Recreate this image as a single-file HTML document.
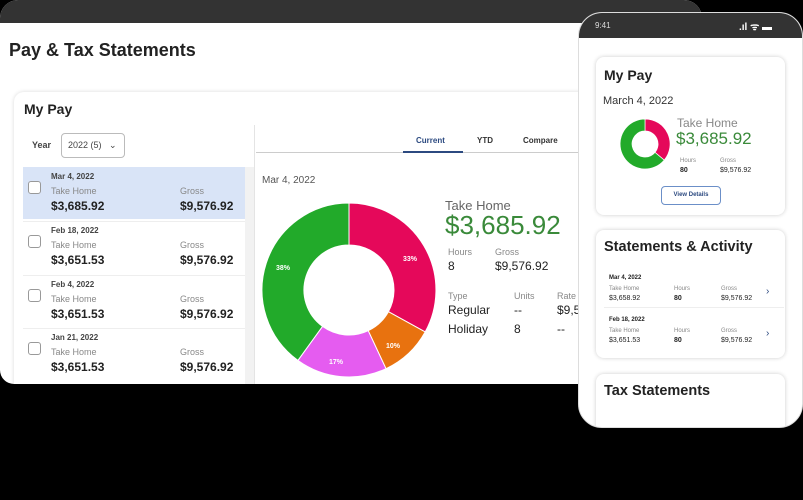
<!DOCTYPE html>
<html><head><style>
*{margin:0;padding:0;box-sizing:border-box}
body{width:803px;height:500px;background:#000;position:relative;overflow:hidden;font-family:"Liberation Sans",sans-serif;color:#222}
.a{position:absolute;white-space:nowrap}
.b{font-weight:bold}
.g{color:#888}
</style></head><body>
<div class="a" style="left:0;top:0;width:702px;height:384px;background:#fff;border-radius:18px 18px 14px 14px;overflow:hidden">
 <div class="a" style="left:0;top:0;width:702px;height:23px;background:#333"></div>
 <div class="a b" style="left:9px;top:40px;font-size:18px;color:#222">Pay &amp; Tax Statements</div>
 <div class="a" style="left:14px;top:92px;width:700px;height:300px;border-radius:10px;box-shadow:0 0 4px rgba(0,0,0,.15);background:#fff"></div>
 <div class="a b" style="left:24px;top:101px;font-size:14px">My Pay</div>
 <div class="a" style="left:23px;top:125px;width:232px;height:260px;background:#fff;border-right:1px solid #e4e4e4"></div>
 <div class="a b" style="left:32px;top:140px;font-size:9px;color:#444">Year</div>
 <div class="a" style="left:61px;top:133px;width:64px;height:25px;border:1px solid #bbb;border-radius:4px;font-size:9px;color:#444;padding:6px 0 0 6px">2022 (5) &nbsp;&nbsp;⌄</div>
 <div class="a" style="left:23px;top:167px;width:222px;height:52px;background:#d9e4f7"></div>
 <div class="a" style="left:245px;top:167px;width:9px;height:220px;background:#f2f2f2"></div>
 <div class="a" style="left:23px;top:168px;width:222px">
  <div class="a" style="left:5px;top:13px;width:13px;height:13px;border:1px solid #999;border-radius:3px;background:#fff"></div>
  <div class="a b" style="left:28px;top:4px;font-size:8px;color:#444">Mar 4, 2022</div>
  <div class="a g" style="left:28px;top:18px;font-size:9px">Take Home</div><div class="a g" style="left:157px;top:18px;font-size:9px">Gross</div>
  <div class="a b" style="left:28px;top:31px;font-size:12px">$3,685.92</div><div class="a b" style="left:157px;top:31px;font-size:12px">$9,576.92</div>
 </div>
 <div class="a" style="left:23px;top:221px;width:222px;border-top:1px solid #eee">
  <div class="a" style="left:5px;top:13px;width:13px;height:13px;border:1px solid #999;border-radius:3px"></div>
  <div class="a b" style="left:28px;top:4px;font-size:8px;color:#444">Feb 18, 2022</div>
  <div class="a g" style="left:28px;top:18px;font-size:9px">Take Home</div><div class="a g" style="left:157px;top:18px;font-size:9px">Gross</div>
  <div class="a b" style="left:28px;top:31px;font-size:12px">$3,651.53</div><div class="a b" style="left:157px;top:31px;font-size:12px">$9,576.92</div>
 </div>
 <div class="a" style="left:23px;top:275px;width:222px;border-top:1px solid #eee">
  <div class="a" style="left:5px;top:13px;width:13px;height:13px;border:1px solid #999;border-radius:3px"></div>
  <div class="a b" style="left:28px;top:4px;font-size:8px;color:#444">Feb 4, 2022</div>
  <div class="a g" style="left:28px;top:18px;font-size:9px">Take Home</div><div class="a g" style="left:157px;top:18px;font-size:9px">Gross</div>
  <div class="a b" style="left:28px;top:31px;font-size:12px">$3,651.53</div><div class="a b" style="left:157px;top:31px;font-size:12px">$9,576.92</div>
 </div>
 <div class="a" style="left:23px;top:328px;width:222px;border-top:1px solid #eee">
  <div class="a" style="left:5px;top:13px;width:13px;height:13px;border:1px solid #999;border-radius:3px"></div>
  <div class="a b" style="left:28px;top:4px;font-size:8px;color:#444">Jan 21, 2022</div>
  <div class="a g" style="left:28px;top:18px;font-size:9px">Take Home</div><div class="a g" style="left:157px;top:18px;font-size:9px">Gross</div>
  <div class="a b" style="left:28px;top:31px;font-size:12px">$3,651.53</div><div class="a b" style="left:157px;top:31px;font-size:12px">$9,576.92</div>
 </div>
 <div class="a" style="left:256px;top:152px;width:330px;height:1px;background:#ccc"></div>
 <div class="a b" style="left:416px;top:136px;font-size:8px;color:#2c4a80">Current</div>
 <div class="a" style="left:403px;top:151px;width:60px;height:2px;background:#2c4a80"></div>
 <div class="a b" style="left:477px;top:136px;font-size:8px;color:#333">YTD</div>
 <div class="a b" style="left:523px;top:136px;font-size:8px;color:#333">Compare</div>
 <div class="a" style="left:262px;top:175px;font-size:10px;color:#555">Mar 4, 2022</div>
 <div class="a" style="left:445px;top:198px;font-size:13px;color:#666">Take Home</div>
 <div class="a" style="left:445px;top:210px;font-size:26px;color:#3a8a3a">$3,685.92</div>
 <div class="a g" style="left:448px;top:247px;font-size:9px">Hours</div><div class="a g" style="left:495px;top:247px;font-size:9px">Gross</div>
 <div class="a" style="left:448px;top:259px;font-size:12px">8</div><div class="a" style="left:495px;top:259px;font-size:12px">$9,576.92</div>
 <div class="a g" style="left:448px;top:291px;font-size:9px">Type</div><div class="a g" style="left:514px;top:291px;font-size:9px">Units</div><div class="a g" style="left:557px;top:291px;font-size:9px">Rate</div>
 <div class="a" style="left:448px;top:303px;font-size:12px">Regular</div><div class="a" style="left:514px;top:303px;font-size:12px">--</div><div class="a" style="left:557px;top:303px;font-size:12px">$9,5</div>
 <div class="a" style="left:448px;top:322px;font-size:12px">Holiday</div><div class="a" style="left:514px;top:322px;font-size:12px">8</div><div class="a" style="left:557px;top:322px;font-size:12px">--</div>
 <svg class="a" style="left:0;top:0" width="702" height="384">
  <g stroke="#fff" stroke-width="1">
   <path d="M349 203 A87 87 0 0 1 425.2 331.9 L388.4 311.7 A45 45 0 0 0 349 245Z" fill="#e5085a"/>
   <path d="M425.2 331.9 A87 87 0 0 1 386 368.7 L368.2 330.7 A45 45 0 0 0 388.4 311.7Z" fill="#e8720f"/>
   <path d="M386 368.7 A87 87 0 0 1 297.9 360.4 L322.5 326.4 A45 45 0 0 0 368.2 330.7Z" fill="#e55cf0"/>
   <path d="M297.9 360.4 A87 87 0 0 1 349 203 L349 245 A45 45 0 0 0 322.5 326.4Z" fill="#22aa2a"/>
  </g>
  <g fill="#fff" font-size="7" font-weight="bold" font-family="Liberation Sans">
   <text x="403" y="261">33%</text><text x="386" y="348">10%</text><text x="329" y="364">17%</text><text x="276" y="270">38%</text>
  </g>
 </svg>
</div>
<div class="a" style="left:578px;top:12px;width:225px;height:416px;background:#fff;border-radius:24px;overflow:hidden;border:1px solid #ddd">
 <div class="a" style="left:0;top:0;width:225px;height:25px;background:#333"></div>
 <div class="a" style="left:16px;top:8px;font-size:8px;color:#ddd">9:41</div>
 <div class="a b" style="left:160px;top:6px;font-size:10px;color:#fff">.ıl ᯤ ▬</div>
 <div class="a" style="left:17px;top:44px;width:189px;height:158px;border-radius:8px;box-shadow:0 0 4px rgba(0,0,0,.2)"></div>
 <div class="a b" style="left:25px;top:54px;font-size:14px">My Pay</div>
 <div class="a" style="left:24px;top:82px;font-size:11px;color:#333">March 4, 2022</div>
 <div class="a" style="left:98px;top:103px;font-size:12px;color:#888">Take Home</div>
 <div class="a" style="left:97px;top:116px;font-size:17px;color:#3a8a3a">$3,685.92</div>
 <div class="a g" style="left:101px;top:145px;font-size:6px">Hours</div><div class="a g" style="left:141px;top:145px;font-size:6px">Gross</div>
 <div class="a b" style="left:101px;top:154px;font-size:7px">80</div><div class="a" style="left:141px;top:154px;font-size:7px">$9,576.92</div>
 <div class="a b" style="left:82px;top:173px;width:60px;height:19px;border:1px solid #6b8fc8;border-radius:4px;font-size:6px;color:#2c4a80;text-align:center;padding-top:5px">View Details</div>
 <div class="a" style="left:17px;top:217px;width:189px;height:128px;border-radius:8px;box-shadow:0 0 4px rgba(0,0,0,.2)"></div>
 <div class="a b" style="left:25px;top:226px;font-size:14.5px">Statements &amp; Activity</div>
 <div class="a b" style="left:30px;top:262px;font-size:6px">Mar 4, 2022</div>
 <div class="a g" style="left:30px;top:273px;font-size:6px">Take Home</div><div class="a g" style="left:95px;top:273px;font-size:6px">Hours</div><div class="a g" style="left:142px;top:273px;font-size:6px">Gross</div>
 <div class="a" style="left:30px;top:282px;font-size:7px">$3,658.92</div><div class="a b" style="left:95px;top:282px;font-size:7px">80</div><div class="a" style="left:142px;top:282px;font-size:7px">$9,576.92</div>
 <div class="a" style="left:187px;top:273px;font-size:10px;color:#2c4a80">›</div>
 <div class="a" style="left:25px;top:294px;width:180px;height:1px;background:#eee"></div>
 <div class="a b" style="left:30px;top:304px;font-size:6px">Feb 18, 2022</div>
 <div class="a g" style="left:30px;top:315px;font-size:6px">Take Home</div><div class="a g" style="left:95px;top:315px;font-size:6px">Hours</div><div class="a g" style="left:142px;top:315px;font-size:6px">Gross</div>
 <div class="a" style="left:30px;top:324px;font-size:7px">$3,651.53</div><div class="a b" style="left:95px;top:324px;font-size:7px">80</div><div class="a" style="left:142px;top:324px;font-size:7px">$9,576.92</div>
 <div class="a" style="left:187px;top:315px;font-size:10px;color:#2c4a80">›</div>
 <div class="a" style="left:17px;top:361px;width:189px;height:60px;border-radius:8px;box-shadow:0 0 4px rgba(0,0,0,.2)"></div>
 <div class="a b" style="left:25px;top:370px;font-size:14.5px">Tax Statements</div>
 <svg class="a" style="left:0;top:0" width="225" height="416">
  <path d="M66 106 A25 25 0 0 1 85.2 147.1 L76 139.4 A13 13 0 0 0 66 118Z" fill="#e5085a" stroke="#fff" stroke-width=".7"/>
  <path d="M85.2 147.1 A25 25 0 1 1 66 106 L66 118 A13 13 0 1 0 76 139.4Z" fill="#22aa2a" stroke="#fff" stroke-width=".7"/>
 </svg>
</div>
</body></html>
